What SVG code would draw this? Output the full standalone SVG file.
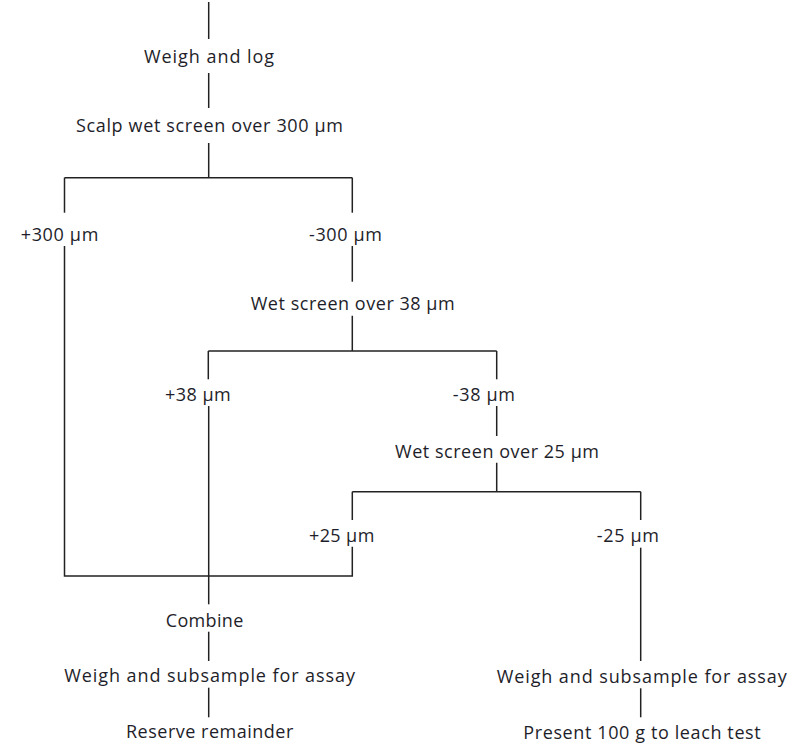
<svg xmlns="http://www.w3.org/2000/svg" width="801" height="744" viewBox="0 0 801 744">
<style>
.t{font-family:"Open Sans","Noto Sans","Liberation Sans",sans-serif;font-size:18px;fill:#1e1e2a}
.c{fill:none;stroke:#222;stroke-width:1.5;stroke-linejoin:miter;stroke-linecap:butt}
</style>
<rect width="801" height="744" fill="#fff"/>
<g id="connectors" class="c">
<path d="M208.7,2 V39"/>
<path d="M208.7,73 V108"/>
<path d="M208.7,143 V177.7 M64.5,177.7 H352.3"/>
<path d="M64.5,177.7 V212.7"/>
<path d="M352.3,177.7 V212.7"/>
<path d="M64.5,246 V576 H352.3 V546.7"/>
<path d="M352.3,246 V281.7"/>
<path d="M352.3,315.7 V351 M208.3,351 H496.7"/>
<path d="M208.3,351 V379.3"/>
<path d="M496.7,351 V379.3"/>
<path d="M208.7,406 V604.3"/>
<path d="M496.7,406 V436"/>
<path d="M496.7,462.7 V491.7 M352.3,491.7 H640.7"/>
<path d="M352.3,491.7 V520"/>
<path d="M640.7,491.7 V520"/>
<path d="M640.7,547.7 V661"/>
<path d="M208.7,631.7 V661"/>
<path d="M208.7,687.7 V717.3"/>
<path d="M640.7,688.3 V717.3"/>
</g>
<g id="weigh-log"><text class="t" x="144" y="62.5" textLength="130">Weigh and log</text></g>
<g id="scalp"><text class="t" x="76" y="131.7" textLength="267">Scalp wet screen over 300 µm</text></g>
<g id="plus300"><text class="t" x="20.7" y="241" textLength="77.6">+300 µm</text></g>
<g id="minus300"><text class="t" x="309" y="241" textLength="73">-300 µm</text></g>
<g id="screen38"><text class="t" x="250.7" y="310" textLength="204">Wet screen over 38 µm</text></g>
<g id="plus38"><text class="t" x="165" y="401" textLength="65.7">+38 µm</text></g>
<g id="minus38"><text class="t" x="452.7" y="401" textLength="62.3">-38 µm</text></g>
<g id="screen25"><text class="t" x="395" y="458.3" textLength="204">Wet screen over 25 µm</text></g>
<g id="plus25"><text class="t" x="309" y="541.7" textLength="65.3">+25 µm</text></g>
<g id="minus25"><text class="t" x="596.7" y="542.3" textLength="62.3">-25 µm</text></g>
<g id="combine"><text class="t" x="165.7" y="626.7" textLength="77.6">Combine</text></g>
<g id="subsample-left"><text class="t" x="64.3" y="682.3" textLength="290.7">Weigh and subsample for assay</text></g>
<g id="reserve"><text class="t" x="126" y="738.3" textLength="167.3">Reserve remainder</text></g>
<g id="subsample-right"><text class="t" x="496.7" y="682.7" textLength="290">Weigh and subsample for assay</text></g>
<g id="present"><text class="t" x="523.3" y="739" textLength="237.4">Present 100 g to leach test</text></g>
</svg>
